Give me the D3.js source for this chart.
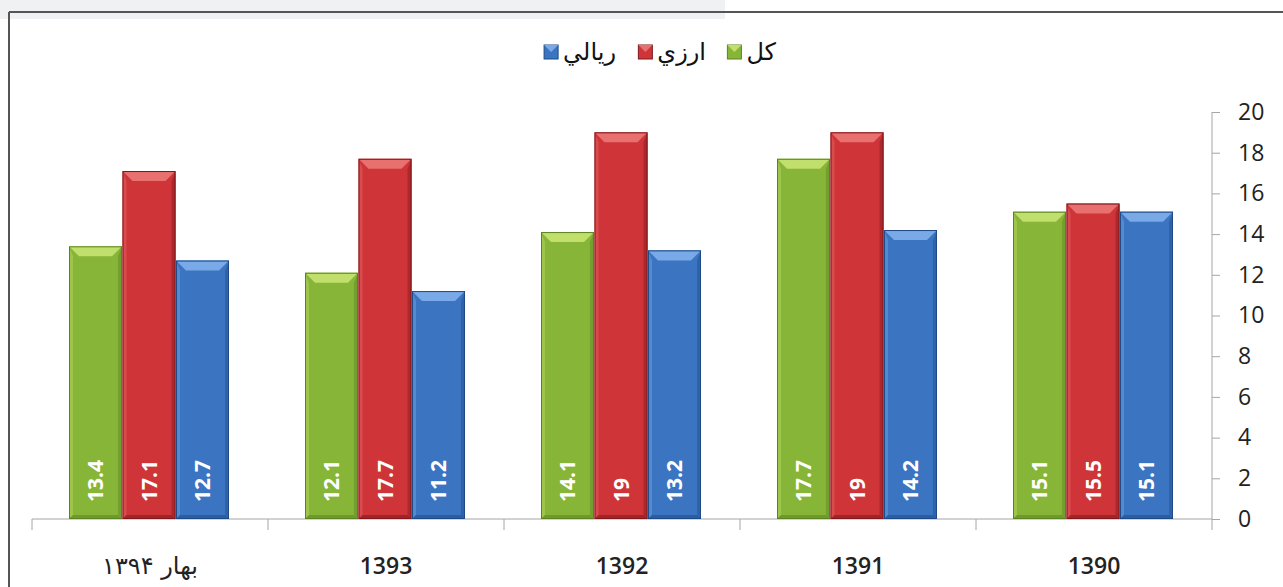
<!DOCTYPE html>
<html>
<head>
<meta charset="utf-8">
<title>Bar Chart</title>
<script src="https://d3js.org/d3.v7.min.js"></script>
<style>
  body { margin: 0; background: #fff; }
  svg { display: block; }
</style>
</head>
<body>
<div id="home"></div>
<script>
// categories from left to right as drawn
const years = ["بهار ۱۳۹۴", "1393", "1392", "1391", "1390"];
const seriesNames = ["كل", "ارزي", "ريالي"];
const total = [13.4, 12.1, 14.1, 17.7, 15.1];
const forex = [17.1, 17.7, 19, 19, 15.5];
const rial = [12.7, 11.2, 13.2, 14.2, 15.1];
const yTicks = [0, 2, 4, 6, 8, 10, 12, 14, 16, 18, 20];

const colors = {
  "كل": { base: "#86b537", top: "#c0df6c", dark: "#5a8420", edge: "#6d9a2a" },
  "ارزي": { base: "#cf3438", top: "#e8706e", dark: "#7e181b", edge: "#a4262a" },
  "ريالي": { base: "#3b75c2", top: "#79a9e6", dark: "#1f4a85", edge: "#2c5ea3" }
};
const seriesValues = [total, forex, rial];

const w = 1283, h = 587;
const svg = d3.select("#home").append("svg").attr("width", w).attr("height", h);

// page frame
svg.append("rect").attr("x", 0).attr("y", 0).attr("width", 725).attr("height", 19).attr("fill", "#eff1f3");
svg.append("line").attr("x1", 9).attr("x2", w).attr("y1", 12).attr("y2", 12).attr("stroke", "#555").attr("stroke-width", 2);
svg.append("line").attr("x1", 9).attr("x2", 9).attr("y1", 12).attr("y2", h).attr("stroke", "#555").attr("stroke-width", 2);

const xScale = d3.scaleBand().domain(years).range([32, 1212]);
const inner = d3.scaleBand().domain(seriesNames).range([37, xScale.bandwidth() - 39]).paddingInner(0.01);
const yScale = d3.scaleLinear().domain([0, 20]).range([519, 112]);

// y axis on the right
const yAxis = d3.axisRight(yScale).tickValues(yTicks).tickSize(8).tickPadding(18);
const gy = svg.append("g").attr("transform", "translate(1212,0)").call(yAxis);
gy.select(".domain").attr("stroke", "#a6a6a6").attr("d", "M0,112V519");
gy.selectAll(".tick line").attr("stroke", "#a6a6a6");
gy.selectAll(".tick text").attr("font-family", "Open Sans, sans-serif").attr("font-size", 23).attr("fill", "#222");

// x axis
const gx = svg.append("g");
gx.append("line").attr("x1", 32).attr("x2", 1212).attr("y1", 519).attr("y2", 519).attr("stroke", "#a6a6a6");
const bounds = years.map(d => xScale(d)).concat([1212]);
gx.selectAll("line.bt").data(bounds).enter().append("line").attr("class", "bt")
  .attr("x1", d => d).attr("x2", d => d).attr("y1", 519).attr("y2", 530).attr("stroke", "#a6a6a6");
gx.selectAll("text").data(years).enter().append("text")
  .attr("x", d => xScale(d) + xScale.bandwidth() / 2)
  .attr("y", 574)
  .attr("text-anchor", "middle")
  .attr("font-family", (d, i) => i === 0 ? "DejaVu Sans, sans-serif" : "Open Sans, sans-serif")
  .attr("font-size", (d, i) => i === 0 ? 24 : 23)
  .attr("font-weight", (d, i) => i === 0 ? 400 : 600)
  .attr("fill", "#222")
  .text(d => d);

// bars
const bars = [];
seriesNames.forEach((s, si) => {
  years.forEach((c, ci) => bars.push({ s: s, c: c, v: seriesValues[si][ci] }));
});

const bg = svg.selectAll("g.bar").data(bars).enter().append("g").attr("class", "bar")
  .attr("transform", d => `translate(${xScale(d.c) + inner(d.s)},0)`);
const bw = inner.bandwidth();
const bev = 10;
bg.append("rect")
  .attr("x", 0).attr("y", d => yScale(d.v))
  .attr("width", bw).attr("height", d => yScale(0) - yScale(d.v))
  .attr("fill", d => colors[d.s].base);
// top bevel
bg.append("path")
  .attr("d", d => {
    const t = yScale(d.v);
    return `M0,${t}L${bw},${t}L${bw - bev},${t + bev}L${bev},${t + bev}Z`;
  })
  .attr("fill", d => colors[d.s].top);
// left bevel
bg.append("path")
  .attr("d", d => {
    const t = yScale(d.v), b = yScale(0);
    return `M0,${t}L${bev * 0.4},${t + bev}L${bev * 0.4},${b - 4}L0,${b}Z`;
  })
  .attr("fill", d => colors[d.s].top).attr("opacity", 0.4);
// right bevel
bg.append("path")
  .attr("d", d => {
    const t = yScale(d.v), b = yScale(0);
    return `M${bw},${t}L${bw - bev * 0.4},${t + bev}L${bw - bev * 0.4},${b - 4}L${bw},${b}Z`;
  })
  .attr("fill", d => colors[d.s].edge).attr("opacity", 0.8);
// bottom bevel
bg.append("path")
  .attr("d", d => {
    const b = yScale(0);
    return `M0,${b}L${bev * 0.4},${b - 4}L${bw - bev * 0.4},${b - 4}L${bw},${b}Z`;
  })
  .attr("fill", d => colors[d.s].dark).attr("opacity", 0.55);
bg.append("rect")
  .attr("x", 0.5).attr("y", d => yScale(d.v) + 0.5)
  .attr("width", bw - 1).attr("height", d => yScale(0) - yScale(d.v) - 1)
  .attr("fill", "none").attr("stroke", d => colors[d.s].dark).attr("stroke-width", 1);

// value labels
bg.append("text")
  .attr("transform", `translate(${bw / 2 + 7.5},502) rotate(-90)`)
  .attr("text-anchor", "start")
  .attr("font-family", "Open Sans, sans-serif")
  .attr("font-weight", "bold")
  .attr("font-size", 21)
  .attr("fill", "#fff")
  .text(d => d.v);

// legend, right to left
const legend = svg.append("g").attr("transform", "translate(0,52)");
const legItems = [
  { s: "كل", x: 776 },
  { s: "ارزي", x: 706 },
  { s: "ريالي", x: 616 }
];
legItems.forEach(it => {
  const g = legend.append("g");
  const t = g.append("text")
    .attr("x", it.x).attr("y", 8)
    .attr("text-anchor", "end")
    .attr("font-family", "DejaVu Sans, sans-serif")
    .attr("font-size", 24)
    .attr("fill", "#111")
    .text(it.s);
  const tw = t.node().getComputedTextLength();
  const sx = it.x - tw - 19;
  g.append("rect").attr("x", sx).attr("y", -7).attr("width", 14).attr("height", 14)
    .attr("fill", colors[it.s].base).attr("stroke", colors[it.s].dark);
  g.append("path").attr("d", `M${sx},${-7}L${sx + 14},${-7}L${sx + 7},${0}Z`).attr("fill", colors[it.s].top);
});
</script>
</body>
</html>
